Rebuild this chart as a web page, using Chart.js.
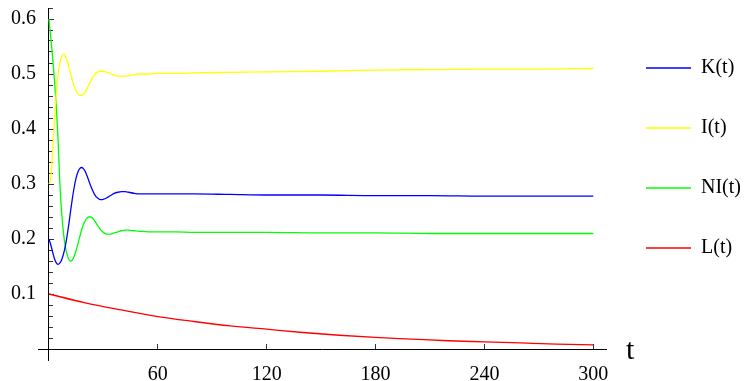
<!DOCTYPE html>
<html>
<head>
<meta charset="utf-8">
<script src="https://cdn.jsdelivr.net/npm/chart.js@4.4.1/dist/chart.umd.min.js"></script>
<style>
    html, body { margin: 0; padding: 0; background: #fff; }
</style>
</head>
<body>
<canvas id="modelChart" width="746" height="381"></canvas>
<script>
// time samples for the oscillating series (dense at the start)
const tFast = [0, 1, 2, 3, 4, 5, 6, 7, 8, 9, 10, 11, 12, 13, 14, 15, 16, 17, 18, 19, 20,
    21, 22, 23, 24, 25, 26, 27, 28, 29, 30, 32, 34, 36, 38, 40, 42, 44, 47, 50, 55, 60,
    70, 80, 100, 120, 150, 180, 210, 240, 270, 300];

// K(t)
const kValues = [0.200, 0.190, 0.177, 0.165, 0.157, 0.154, 0.156, 0.162, 0.172, 0.186, 0.205,
    0.227, 0.252, 0.275, 0.295, 0.311, 0.322, 0.328, 0.330, 0.328, 0.323,
    0.315, 0.306, 0.297, 0.289, 0.282, 0.277, 0.274, 0.272, 0.2715, 0.272,
    0.275, 0.279, 0.283, 0.285, 0.286, 0.286, 0.285, 0.283, 0.282, 0.282, 0.282,
    0.282, 0.282, 0.281, 0.280, 0.280, 0.279, 0.279, 0.278, 0.278, 0.278];

// I(t)
const iValues = [0.300, 0.310, 0.355, 0.415, 0.462, 0.497, 0.520, 0.532, 0.536, 0.533, 0.525,
    0.513, 0.500, 0.488, 0.477, 0.469, 0.464, 0.461, 0.461, 0.463, 0.467,
    0.473, 0.480, 0.487, 0.493, 0.498, 0.502, 0.504, 0.505, 0.505, 0.505,
    0.503, 0.500, 0.498, 0.496, 0.496, 0.496, 0.497, 0.499, 0.500, 0.500, 0.501,
    0.501, 0.502, 0.503, 0.504, 0.505, 0.507, 0.508, 0.509, 0.509, 0.510];

// NI(t)
const niValues = [0.600, 0.568, 0.532, 0.492, 0.445, 0.385, 0.305, 0.250, 0.212, 0.187, 0.172,
    0.163, 0.160, 0.162, 0.169, 0.179, 0.191, 0.204, 0.216, 0.226, 0.233,
    0.238, 0.240, 0.240, 0.238, 0.234, 0.229, 0.224, 0.219, 0.215, 0.212,
    0.209, 0.209, 0.211, 0.213, 0.215, 0.216, 0.216, 0.215, 0.214, 0.213, 0.213,
    0.213, 0.212, 0.212, 0.212, 0.211, 0.211, 0.210, 0.210, 0.210, 0.210];

// L(t) decays slowly, fewer samples are enough
const tSlow = [0, 20, 40, 60, 80, 100, 120, 140, 160, 180, 200, 220, 240, 260, 280, 300];
const lValues = [0.100, 0.084, 0.071, 0.059, 0.050, 0.042, 0.036, 0.030, 0.025, 0.021,
    0.018, 0.015, 0.013, 0.011, 0.009, 0.0075];

const seriesLabels = ['K(t)', 'I(t)', 'NI(t)', 'L(t)'];
const seriesColors = ['#0000ff', '#ffff00', '#00ff00', '#ff0000'];

const xTickValues = [60, 120, 180, 240, 300];
const yTickValues = [0.1, 0.2, 0.3, 0.4, 0.5, 0.6];

const FONT = '"Liberation Serif", "Times New Roman", serif';
const Y_MIN = -0.02, Y_MAX = 0.62;

function toPoints(ts, vs) {
    return ts.map((t, i) => ({ x: t, y: vs[i] }));
}

function makeDataset(idx, ts, vs) {
    return {
        label: seriesLabels[idx],
        data: toPoints(ts, vs),
        borderColor: seriesColors[idx],
        backgroundColor: seriesColors[idx],
        borderWidth: 1.3,
        pointRadius: 0,
        cubicInterpolationMode: 'monotone',
        fill: false
    };
}

// scales placed on the axes must not eat layout space
function noPadding(s) {
    s.paddingTop = 0; s.paddingBottom = 0; s.paddingLeft = 0; s.paddingRight = 0;
}

// "t" written at the right end of the time axis
const axisNamePlugin = {
    id: 'axisName',
    afterDraw(chart) {
        const { ctx, scales: { x, y } } = chart;
        ctx.save();
        ctx.font = '30px ' + FONT;
        ctx.fillStyle = '#000';
        ctx.textAlign = 'left';
        ctx.textBaseline = 'alphabetic';
        ctx.fillText('t', x.right + 20, y.getPixelForValue(0) + 10);
        ctx.restore();
    }
};

const chartEl = document.getElementById('modelChart').getContext('2d');

new Chart(chartEl, {
    type: 'line',
    data: {
        datasets: [
            makeDataset(0, tFast, kValues),
            makeDataset(1, tFast, iValues),
            makeDataset(2, tFast, niValues),
            makeDataset(3, tSlow, lValues)
        ]
    },
    plugins: [axisNamePlugin],
    options: {
        responsive: false,
        animation: false,
        devicePixelRatio: 1,
        layout: {
            autoPadding: false,
            padding: { left: 0, top: 8, right: 0, bottom: 21 }
        },
        plugins: {
            tooltip: { enabled: false },
            legend: {
                position: 'right',
                align: 'start',
                maxWidth: 140,
                title: { display: true, text: ' ', font: { size: 8, lineHeight: 1.25 }, padding: 0 },
                labels: {
                    usePointStyle: true,
                    pointStyle: 'line',
                    pointStyleWidth: 45,
                    padding: 40,
                    color: '#000',
                    font: { family: FONT, size: 20 }
                }
            }
        },
        scales: {
            x: {
                type: 'linear',
                min: -6,
                max: 307,
                position: { yAxis: 0 },
                afterBuildTicks: s => { s.ticks = xTickValues.map(v => ({ value: v })); },
                afterFit: noPadding,
                grid: { drawOnChartArea: false, drawTicks: true, tickLength: -6, tickColor: '#333' },
                border: { display: true, color: '#000', width: 1 },
                ticks: { color: '#000', padding: 20, maxRotation: 0, font: { family: FONT, size: 20 } }
            },
            // labels of the value axis, kept at the left edge of the plot
            y: {
                type: 'linear',
                position: 'left',
                min: Y_MIN,
                max: Y_MAX,
                afterBuildTicks: s => { s.ticks = yTickValues.map(v => ({ value: v })); },
                afterFit: s => { noPadding(s); s.width = 38; },
                grid: { display: false, drawTicks: false },
                border: { display: false },
                ticks: { color: '#000', padding: 2, font: { family: FONT, size: 20 },
                    callback: v => v.toFixed(1) }
            },
            // the drawn value axis at t = 0, major ticks
            yAxis: {
                axis: 'y',
                type: 'linear',
                min: Y_MIN,
                max: Y_MAX,
                position: { x: 0 },
                afterBuildTicks: s => { s.ticks = yTickValues.map(v => ({ value: v })); },
                afterFit: noPadding,
                grid: { drawOnChartArea: false, drawTicks: true, tickLength: -6, tickColor: '#333' },
                border: { display: true, color: '#000', width: 1 },
                ticks: { display: false }
            },
            // minor ticks every 0.02
            yMinor: {
                axis: 'y',
                type: 'linear',
                min: Y_MIN,
                max: Y_MAX,
                position: { x: 0 },
                afterBuildTicks: s => { s.ticks = s.ticks.filter(t => t.value > 0.001); },
                afterFit: noPadding,
                grid: { drawOnChartArea: false, drawTicks: true, tickLength: -4, tickColor: '#333' },
                border: { display: false },
                ticks: { display: false, stepSize: 0.02 }
            }
        }
    }
});
</script>
</body>
</html>
